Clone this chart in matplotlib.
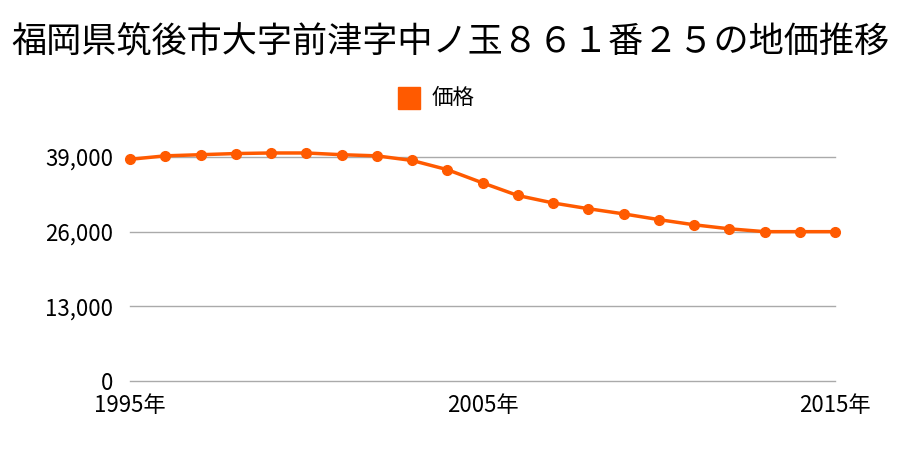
import matplotlib
matplotlib.use("Agg")
import matplotlib.pyplot as plt

plt.rcParams['font.family'] = ['Noto Sans CJK JP', 'DejaVu Sans']

years = list(range(1995, 2016))
prices = [38600, 39200, 39400, 39600, 39700, 39700, 39400, 39200, 38400, 36800,
          34500, 32300, 31000, 30000, 29100, 28100, 27200, 26500, 26000, 26000, 26000]
yticks = [0, 13000, 26000, 39000]
xticks = [1995, 2005, 2015]
title = "福岡県筑後市大字前津字中ノ玉８６１番２５の地価推移"
series_name = "価格"

color = "#ff5a00"

fig = plt.figure(figsize=(9, 4.5), dpi=100)
ax = fig.add_axes([130/900, 1 - 381/450, 705/900, 224/450])

ax.plot(years, prices, color=color, lw=2.5, marker='o', ms=7, clip_on=False,
        zorder=3)

ax.set_xlim(1995, 2015)
ax.set_ylim(0, 39000)
ax.set_yticks(yticks)
ax.set_yticklabels(["{:,}".format(v) for v in yticks])
ax.set_xticks(xticks)
ax.set_xticklabels([str(y) + "年" for y in xticks])
ax.tick_params(axis='both', length=0, labelsize=16)
ax.tick_params(axis='y', pad=12)
ax.tick_params(axis='x', pad=9)
ax.grid(axis='y', color='#aaaaaa', lw=1)
for gl in ax.get_ygridlines():
    gl.set_clip_on(False)
ax.set_axisbelow(True)
for s in ax.spines.values():
    s.set_visible(False)

fig.text(0.5, 1 - 42/450, title, ha='center', va='center', fontsize=25.3)
fig.patches.append(plt.Rectangle((398/900, 1 - 109/450), 22/900, 22/450,
                                 transform=fig.transFigure, color=color))
fig.text(432/900, 1 - 98/450, series_name, ha='left', va='center', fontsize=15.5)

plt.savefig("out.png")
